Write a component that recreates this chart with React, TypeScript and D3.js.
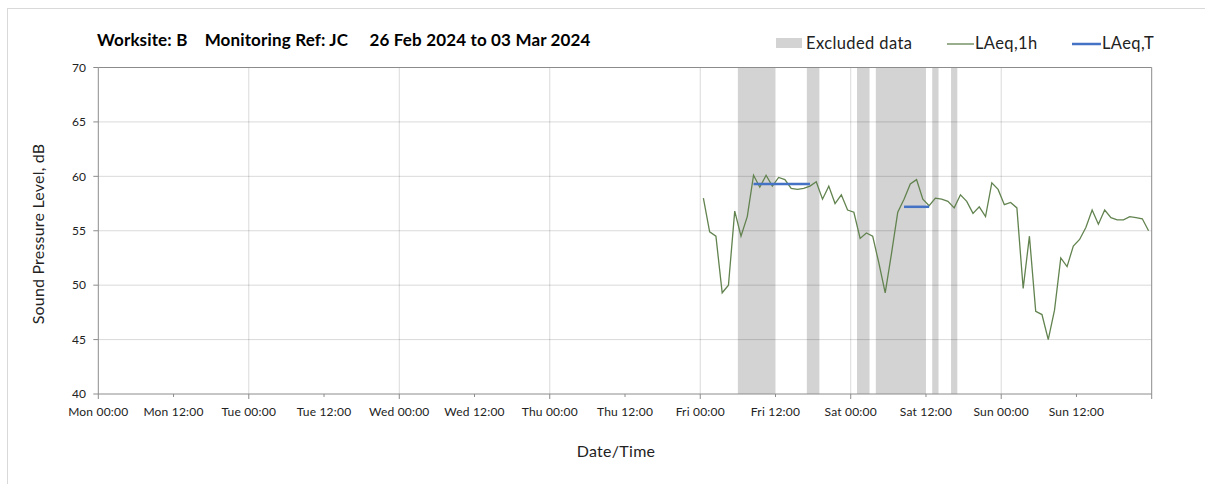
import React from "react";
import * as d3 from "d3";

// ---------- data ----------
const titleText = "Worksite: B    Monitoring Ref: JC     26 Feb 2024 to 03 Mar 2024";
const axisStart = "2024-02-26T00:00";
const axisEnd = "2024-03-04T00:00";
const firstSampleTime = "2024-03-01T00:30"; // hourly LAeq,1h samples, plotted mid-hour
const laeq1h = [
  58.0, 54.9, 54.5, 49.3, 50.0, 56.8, 54.5, 56.3, 60.1, 59.0,
  60.1, 59.1, 59.9, 59.7, 58.9, 58.8, 58.9, 59.1, 59.5, 57.9,
  59.1, 57.5, 58.3, 56.9, 56.7, 54.3, 54.8, 54.5, 52.0, 49.3,
  52.9, 56.7, 57.9, 59.3, 59.7, 57.9, 57.3, 58.0, 57.9, 57.7,
  57.1, 58.3, 57.7, 56.6, 57.2, 56.3, 59.4, 58.8, 57.4, 57.6,
  57.1, 49.7, 54.5, 47.6, 47.3, 45.0, 47.7, 52.5, 51.7, 53.6,
  54.2, 55.3, 56.9, 55.6, 56.9, 56.2, 56.0, 56.0, 56.3, 56.2,
  56.1, 55.0,
];
const excludedStarts = [
  "2024-03-01T06:00", "2024-03-01T17:00", "2024-03-02T01:00",
  "2024-03-02T04:00", "2024-03-02T13:00", "2024-03-02T16:00",
];
const excludedEnds = [
  "2024-03-01T12:00", "2024-03-01T19:00", "2024-03-02T03:00",
  "2024-03-02T12:00", "2024-03-02T14:00", "2024-03-02T17:00",
];
const laeqTStarts = ["2024-03-01T08:30", "2024-03-02T08:30"];
const laeqTEnds = ["2024-03-01T17:30", "2024-03-02T12:30"];
const laeqTValues = [59.3, 57.2];
const yTicks = [40, 45, 50, 55, 60, 65, 70];
const legendLabels = ["Excluded data", "LAeq,1h", "LAeq,T"];
const yTitle = "Sound Pressure Level, dB";
const xTitle = "Date/Time";

// ---------- layout ----------
const W = 1205;
const H = 484;
const left = 98.3;
const right = 1151.7;
const top = 67.5;
const bottom = 394;
const FONT = "Lato, 'Open Sans', sans-serif";

const parse = (s: string) => new Date(s);

export default function App() {
  const x = d3.scaleTime().domain([parse(axisStart), parse(axisEnd)]).range([left, right]);
  const y = d3.scaleLinear().domain([40, 70]).range([bottom, top]);

  const t0 = parse(firstSampleTime);
  const points = laeq1h.map((v, i) => ({ t: d3.timeHour.offset(t0, i), v }));
  const line = d3
    .line<{ t: Date; v: number }>()
    .x((d) => x(d.t))
    .y((d) => y(d.v));

  const majorTicks = d3.timeDay.range(parse(axisStart), d3.timeDay.offset(parse(axisEnd), 1));
  const labelTicks = d3.timeHour.every(12)!.range(parse(axisStart), parse(axisEnd));
  const minorTicks = labelTicks.filter((d) => d.getHours() === 12);
  const fmt = d3.timeFormat("%a %H:%M");

  const axisColor = "#8c8c8c";
  const lineColor = "#62834f";

  return (
    <div style={{ position: "absolute", left: 0, top: 0 }}>
      <svg width={W} height={H} style={{ display: "block", background: "#fff" }}>
        {/* outer chart border */}
        <rect x={7.5} y={8.5} width={1300} height={600} fill="none" stroke="#d9d9d9" />

        {/* title */}
        <text x={97} y={46} fontFamily={FONT} fontWeight="bold" fontSize={17} letterSpacing={0.15} fill="#000" style={{ whiteSpace: "pre" }}>
          {titleText}
        </text>

        {/* excluded bands */}
        {excludedStarts.map((s, i) => (
          <rect
            key={"ex" + i}
            x={x(parse(s))}
            y={top}
            width={x(parse(excludedEnds[i])) - x(parse(s))}
            height={bottom - top}
            fill="#d3d3d3"
          />
        ))}

        {/* horizontal gridlines */}
        {yTicks.filter((t) => t !== 40 && t !== 70).map((t) => (
          <line key={"hg" + t} x1={left} x2={right} y1={y(t)} y2={y(t)} stroke="#000" strokeOpacity={0.15} />
        ))}
        {/* vertical gridlines (daily) */}
        {majorTicks
          .filter((d) => x(d) > left + 1 && x(d) < right - 1)
          .map((d, i) => (
            <line key={"vg" + i} x1={x(d)} x2={x(d)} y1={top} y2={bottom} stroke="#000" strokeOpacity={0.15} />
          ))}

        {/* plot frame */}
        <line x1={left} x2={right} y1={top} y2={top} stroke={axisColor} />
        <line x1={right} x2={right} y1={top} y2={bottom} stroke={axisColor} />
        <line x1={left} x2={left} y1={top} y2={bottom} stroke={axisColor} />
        <line x1={left} x2={right} y1={bottom} y2={bottom} stroke={axisColor} />

        {/* y ticks */}
        {yTicks.map((t) => (
          <g key={"yt" + t}>
            <line x1={left - 5} x2={left} y1={y(t)} y2={y(t)} stroke={axisColor} />
            <text x={86} y={y(t)} dy="0.35em" textAnchor="end" fontFamily={FONT} fontSize={12} fill="#222">
              {t}
            </text>
          </g>
        ))}

        {/* x ticks */}
        {majorTicks
          .filter((d) => x(d) <= right + 0.5)
          .map((d, i) => (
            <line key={"xm" + i} x1={x(d)} x2={x(d)} y1={bottom} y2={bottom + 5} stroke={axisColor} />
          ))}
        {minorTicks.map((d, i) => (
          <line key={"xn" + i} x1={x(d)} x2={x(d)} y1={bottom} y2={bottom + 3} stroke={axisColor} />
        ))}
        {labelTicks.map((d, i) => (
          <text key={"xl" + i} x={x(d)} y={416} textAnchor="middle" fontFamily={FONT} fontSize={12} letterSpacing={0.2} fill="#222">
            {fmt(d)}
          </text>
        ))}

        {/* LAeq,1h line */}
        <path d={line(points) || ""} fill="none" stroke={lineColor} strokeWidth={1.3} />

        {/* LAeq,T segments */}
        {laeqTStarts.map((s, i) => (
          <line
            key={"lt" + i}
            x1={x(parse(s))}
            x2={x(parse(laeqTEnds[i]))}
            y1={y(laeqTValues[i])}
            y2={y(laeqTValues[i])}
            stroke="#4472c4"
            strokeWidth={2.5}
          />
        ))}

        {/* axis titles */}
        <text
          transform={`translate(44, 234) rotate(-90)`}
          textAnchor="middle"
          fontFamily={FONT}
          fontSize={16}
          letterSpacing={0.2}
          fill="#222"
        >
          {yTitle}
        </text>
        <text x={616} y={457} textAnchor="middle" fontFamily={FONT} fontSize={16} letterSpacing={0.3} fill="#222">
          {xTitle}
        </text>

        {/* legend */}
        <rect x={776} y={38} width={26} height={10} fill="#d3d3d3" />
        <text x={806} y={49} fontFamily={FONT} fontSize={16.5} letterSpacing={0.4} fill="#222">
          {legendLabels[0]}
        </text>
        <line x1={947} x2={974} y1={44} y2={44} stroke={lineColor} strokeWidth={1.3} />
        <text x={975} y={49} fontFamily={FONT} fontSize={16.5} letterSpacing={0.4} fill="#222">
          {legendLabels[1]}
        </text>
        <line x1={1072} x2={1101} y1={44} y2={44} stroke="#4472c4" strokeWidth={2.5} />
        <text x={1102} y={49} fontFamily={FONT} fontSize={16.5} letterSpacing={0.4} fill="#222">
          {legendLabels[2]}
        </text>
      </svg>
    </div>
  );
}
